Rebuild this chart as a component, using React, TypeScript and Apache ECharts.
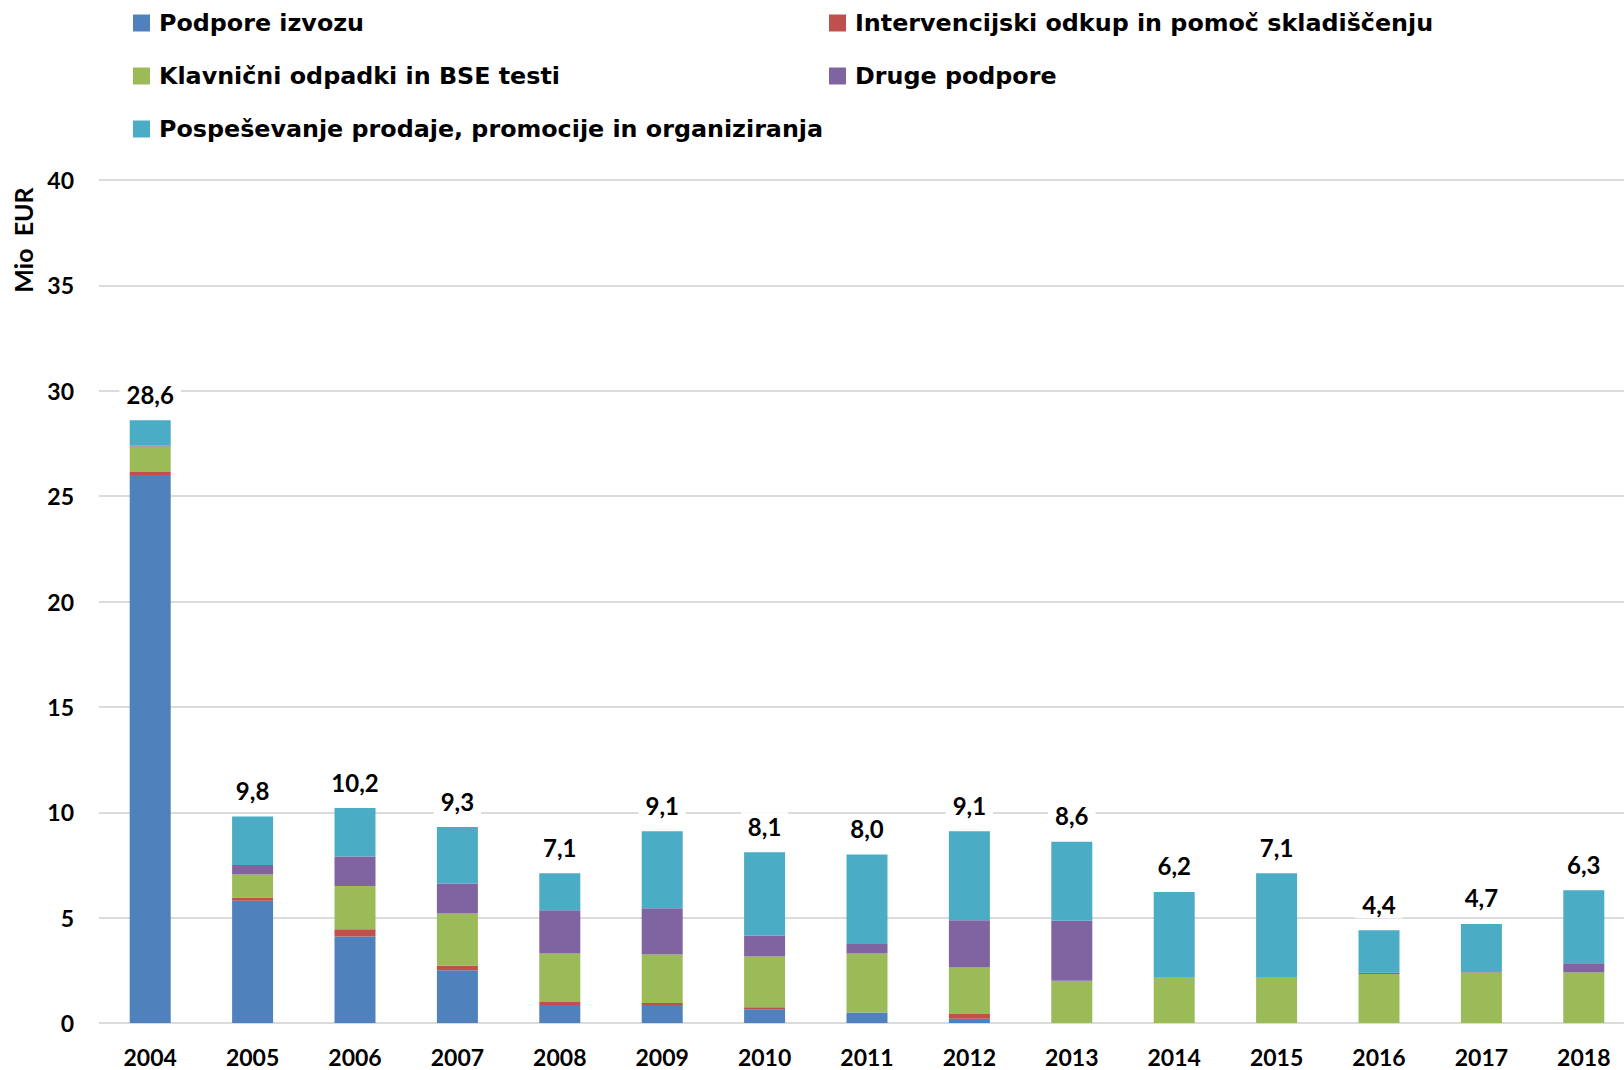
import React, { useEffect, useRef } from "react";
import * as echarts from "echarts";

const years = ["2004", "2005", "2006", "2007", "2008", "2009", "2010", "2011", "2012", "2013", "2014", "2015", "2016", "2017", "2018"];
const seriesNames = [
  "Podpore izvozu",
  "Intervencijski odkup in pomoč skladiščenju",
  "Klavnični odpadki in BSE testi",
  "Druge podpore",
  "Pospeševanje prodaje, promocije in organiziranja",
];
const colors = ["#4F81BD", "#C0504D", "#9BBB59", "#8064A2", "#4BACC6"];

const podporeIzvozu = [26.0, 5.8, 4.1, 2.5, 0.85, 0.85, 0.65, 0.5, 0.2, 0, 0, 0, 0, 0, 0];
const intervencijskiOdkup = [0.15, 0.15, 0.35, 0.23, 0.15, 0.1, 0.1, 0, 0.23, 0, 0, 0, 0, 0, 0];
const klavnicniOdpadki = [1.2, 1.1, 2.05, 2.47, 2.3, 2.3, 2.4, 2.8, 2.2, 2.0, 2.15, 2.15, 2.33, 2.4, 2.4];
const drugePodpore = [0.05, 0.45, 1.4, 1.42, 2.05, 2.2, 1.0, 0.45, 2.25, 2.85, 0, 0, 0.05, 0.06, 0.43];
const pospesevanje = [1.2, 2.3, 2.3, 2.68, 1.75, 3.65, 3.95, 4.25, 4.22, 3.75, 4.07, 4.95, 2.02, 2.24, 3.47];
const totals = [28.6, 9.8, 10.2, 9.3, 7.1, 9.1, 8.1, 8.0, 9.1, 8.6, 6.2, 7.1, 4.4, 4.7, 6.3];

const yTicks = { min: 0, max: 40, interval: 5 };

const FONT = "Lato, 'Open Sans', sans-serif";
const LEGEND_FONT = "'DejaVu Sans', sans-serif";

export default function App() {
  const ref = useRef<HTMLDivElement>(null);
  useEffect(() => {
    const chart = echarts.init(ref.current!, null, { renderer: "svg" });
    const data = [podporeIzvozu, intervencijskiOdkup, klavnicniOdpadki, drugePodpore, pospesevanje];
    const legendPos = [
      { left: 133, top: 11 },
      { left: 829, top: 11 },
      { left: 133, top: 64 },
      { left: 829, top: 64 },
      { left: 133, top: 117 },
    ];
    const option: any = {
      animation: false,
      backgroundColor: "#fff",
      legend: legendPos.map((p, i) => ({
        ...p,
        padding: 0,
        itemWidth: 17,
        itemHeight: 17,
        icon: "rect",
        selectedMode: false,
        data: [seriesNames[i]],
        textStyle: {
          fontSize: 23.8,
          fontWeight: "bold",
          fontFamily: LEGEND_FONT,
          color: "#000",
          padding: [0, 0, 0, 4],
        },
      })),
      grid: {
        left: 99,
        top: 180,
        width: 1536,
        height: 843,
        containLabel: false,
        outerBoundsMode: "none",
      },
      xAxis: {
        type: "category",
        data: years,
        axisTick: { show: false },
        axisLine: { show: false },
        axisLabel: { fontSize: 23, fontWeight: "bold", fontFamily: FONT, color: "#000", margin: 22 },
      },
      yAxis: {
        type: "value",
        min: yTicks.min,
        max: yTicks.max,
        interval: yTicks.interval,
        axisLine: { show: false },
        axisTick: { show: false },
        splitLine: { lineStyle: { color: "#cfcfcf", width: 1.5 } },
        axisLabel: { fontSize: 23, fontWeight: "bold", fontFamily: FONT, color: "#000", margin: 25 },
      },
      graphic: [
        {
          type: "text",
          x: 23,
          y: 240,
          rotation: Math.PI / 2,
          style: {
            text: "Mio  EUR",
            fontSize: 25,
            fontWeight: "bold",
            fontFamily: FONT,
            fill: "#000",
            align: "center",
            verticalAlign: "middle",
          },
        },
      ],
      series: data.map((d, i) => ({
        name: seriesNames[i],
        type: "bar",
        stack: "total",
        barWidth: 41,
        data: d,
        itemStyle: { color: colors[i] },
        label:
          i === 4
            ? {
                show: true,
                position: "top",
                distance: 12,
                formatter: (p: any) => totals[p.dataIndex].toFixed(1).replace(".", ","),
                fontSize: 24,
                fontWeight: "bold",
                fontFamily: FONT,
                color: "#000",
                backgroundColor: "#fff",
                padding: [2, 7],
              }
            : { show: false },
      })),
    };
    chart.setOption(option);
    return () => chart.dispose();
  }, []);
  return (
    <div
      ref={ref}
      style={{ position: "fixed", left: 0, top: 0, width: 1624, height: 1070, background: "#fff" }}
    />
  );
}
